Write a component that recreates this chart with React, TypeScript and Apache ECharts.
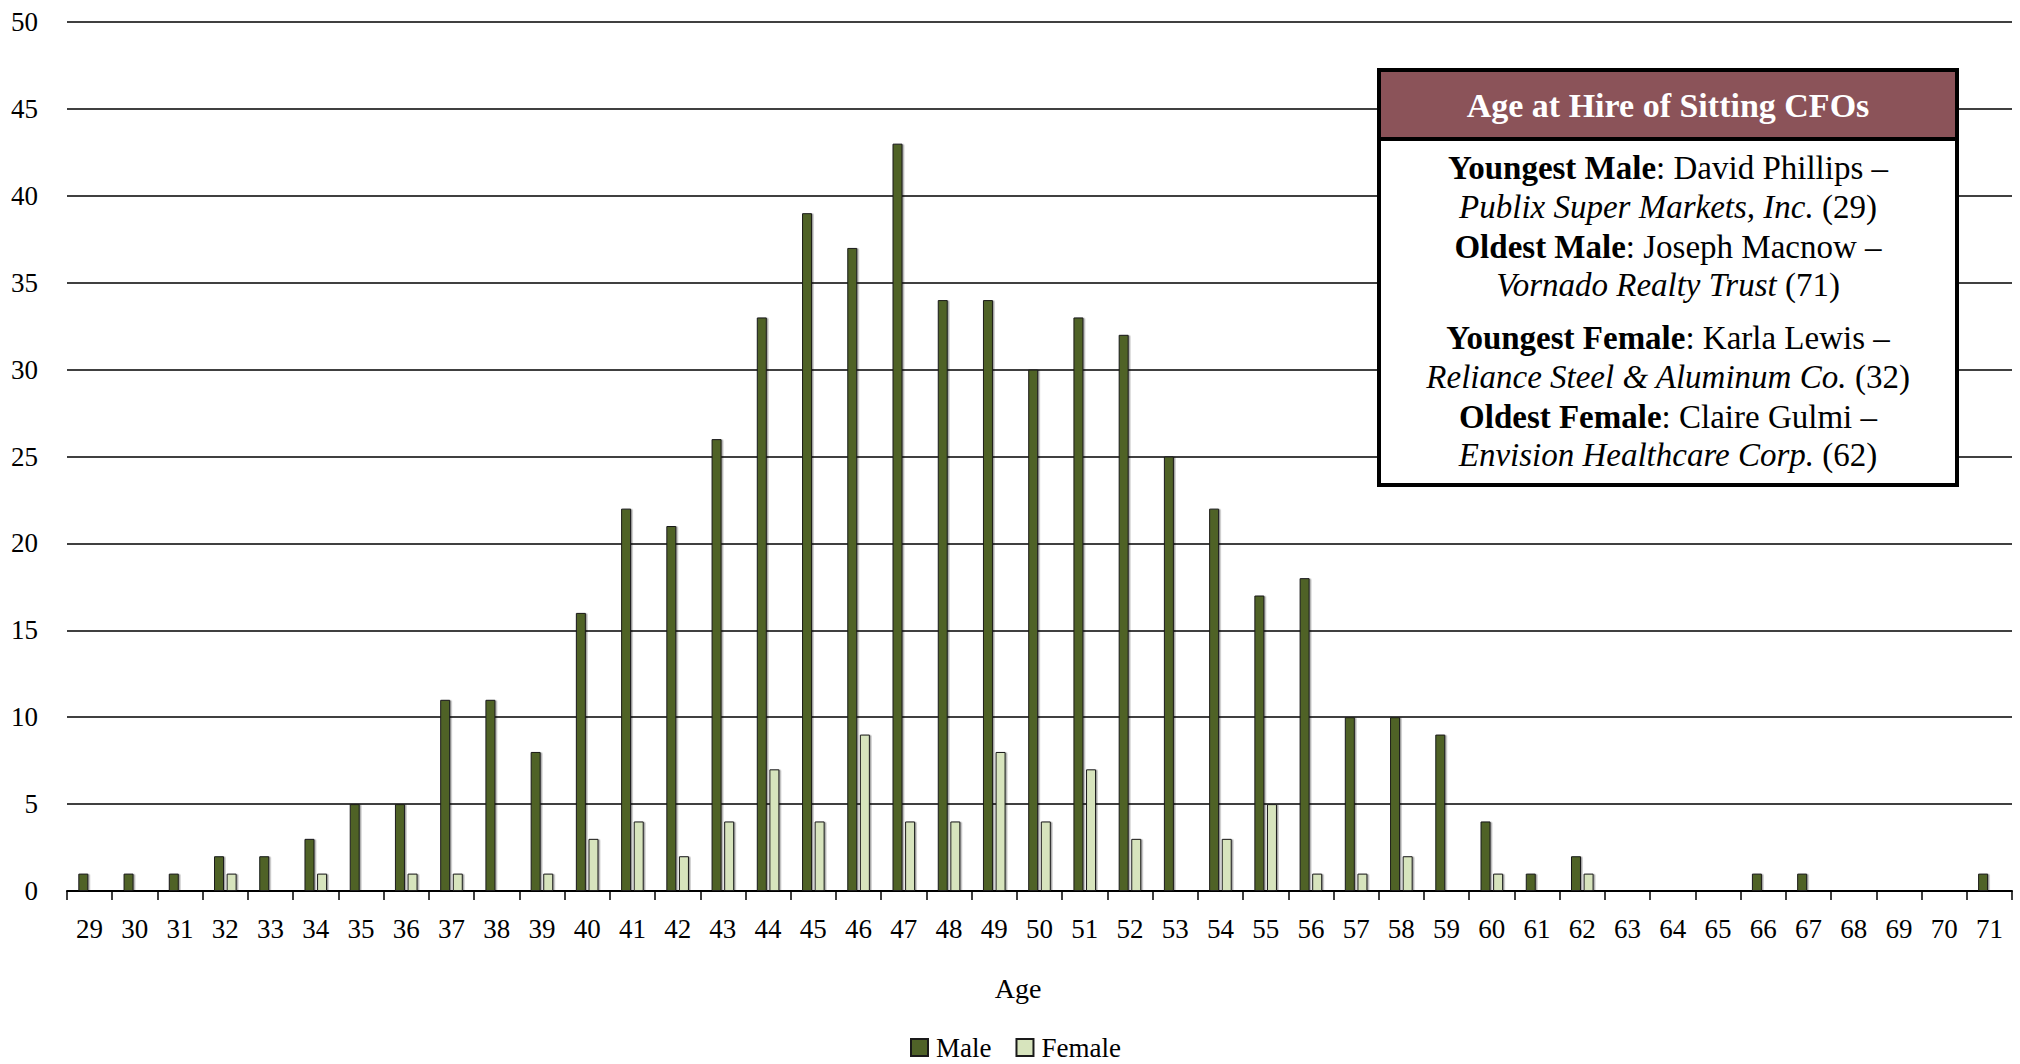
import React, { useEffect, useRef } from "react";
import * as echarts from "echarts";

const ages = ["29","30","31","32","33","34","35","36","37","38","39","40","41","42","43","44","45","46","47","48","49","50","51","52","53","54","55","56","57","58","59","60","61","62","63","64","65","66","67","68","69","70","71"];
const maleCounts = [1,1,1,2,2,3,5,5,11,11,8,16,22,21,26,33,39,37,43,34,34,30,33,32,25,22,17,18,10,10,9,4,1,2,0,0,0,1,1,0,0,0,1];
const femaleCounts = [0,0,0,1,0,1,0,1,1,0,1,3,4,2,4,7,4,9,4,4,8,4,7,3,0,3,5,1,1,2,0,1,0,1,0,0,0,0,0,0,0,0,0];
const yTicks = { min: 0, max: 50, interval: 5 };

const boxTitle = "Age at Hire of Sitting CFOs";
const boxLines = [
  "{b|Youngest Male}: David Phillips –",
  "{i|Publix Super Markets, Inc.} (29)",
  "{b|Oldest Male}: Joseph Macnow –",
  "{i|Vornado Realty Trust} (71)",
  "{b|Youngest Female}: Karla Lewis –",
  "{i|Reliance Steel & Aluminum Co.} (32)",
  "{b|Oldest Female}: Claire Gulmi –",
  "{i|Envision Healthcare Corp.} (62)",
];
const boxLineY = [168, 207, 247, 285, 338, 377, 417, 455];

const FONT = '"Palatino Linotype", "Book Antiqua", Palatino, "Liberation Serif", serif';
const MALE = "#4F6228";
const FEMALE = "#D7E4BD";

export default function App() {
  const ref = useRef<HTMLDivElement>(null);
  useEffect(() => {
    if (!ref.current) return;
    const chart = echarts.init(ref.current, null, { renderer: "svg" });
    const toData = (arr: number[]) => arr.map((v) => (v === 0 ? "-" : v));
    const barStyle = (c: string) => ({
      color: c,
      borderColor: "#1a1a1a",
      borderWidth: 1,
      shadowColor: "rgba(0,0,0,0.35)",
      shadowOffsetX: 1.5,
      shadowOffsetY: 0.5,
      shadowBlur: 1,
    });
    const cx = 1668;
    const BODY = 33;
    const rich = {
      b: { fontFamily: FONT, fontSize: BODY, fontWeight: "bold", fill: "#000" },
      i: { fontFamily: FONT, fontSize: BODY, fontStyle: "italic", fill: "#000" },
    };
    chart.setOption({
      animation: false,
      grid: { left: 67, right: 8, top: 22, bottom: 173, containLabel: false },
      legend: {
        left: 905,
        top: 1029,
        icon: "rect",
        itemWidth: 17,
        itemHeight: 17,
        itemGap: 24,
        textStyle: { fontFamily: FONT, fontSize: 27, color: "#000", padding: [0, 0, 0, 3] },
        data: ["Male", "Female"],
      },
      xAxis: {
        type: "category",
        data: ages,
        name: "Age",
        nameLocation: "middle",
        nameGap: 83,
        nameTextStyle: { fontFamily: FONT, fontSize: 28, color: "#000", padding: [0, 43, 0, 0] },
        axisLine: { lineStyle: { color: "#000", width: 2 } },
        axisTick: { show: true, length: 9, lineStyle: { color: "#000", width: 1.5 } },
        axisLabel: { fontFamily: FONT, fontSize: 27, color: "#000", margin: 24, interval: 0 },
      },
      yAxis: {
        type: "value",
        min: yTicks.min,
        max: yTicks.max,
        interval: yTicks.interval,
        axisLine: { show: false },
        axisTick: { show: false },
        axisLabel: { fontFamily: FONT, fontSize: 27, color: "#000", margin: 29 },
        splitLine: { lineStyle: { color: "#000", width: 1.5 } },
      },
      series: [
        {
          name: "Male",
          type: "bar",
          data: toData(maleCounts),
          barWidth: 10,
          barGap: "26%",
          itemStyle: barStyle(MALE),
        },
        {
          name: "Female",
          type: "bar",
          data: toData(femaleCounts),
          barWidth: 10,
          itemStyle: barStyle(FEMALE),
        },
      ],
      graphic: [
        {
          type: "rect",
          shape: { x: 1379, y: 70, width: 578, height: 415 },
          style: { fill: "#fff", stroke: "#000", lineWidth: 4 },
          z: 100,
        },
        {
          type: "rect",
          shape: { x: 1381, y: 72, width: 574, height: 67 },
          style: { fill: "#8B5359" },
          z: 101,
        },
        {
          type: "line",
          shape: { x1: 1379, y1: 139, x2: 1957, y2: 139 },
          style: { stroke: "#000", lineWidth: 4 },
          z: 102,
        },
        {
          type: "text",
          x: cx,
          y: 105,
          z: 103,
          style: {
            text: boxTitle,
            fontFamily: FONT,
            fontSize: 34,
            fontWeight: "bold",
            fill: "#fff",
            align: "center",
            verticalAlign: "middle",
          },
        },
        ...boxLines.map((t, k) => ({
          type: "text",
          x: cx,
          y: boxLineY[k],
          z: 103,
          style: {
            text: t,
            rich,
            fontFamily: FONT,
            fontSize: BODY,
            fill: "#000",
            align: "center",
            verticalAlign: "middle",
          },
        })),
      ],
    });
    return () => chart.dispose();
  }, []);
  return (
    <div
      ref={ref}
      style={{ position: "fixed", left: 0, top: 0, width: 2020, height: 1064, background: "#fff" }}
    />
  );
}
